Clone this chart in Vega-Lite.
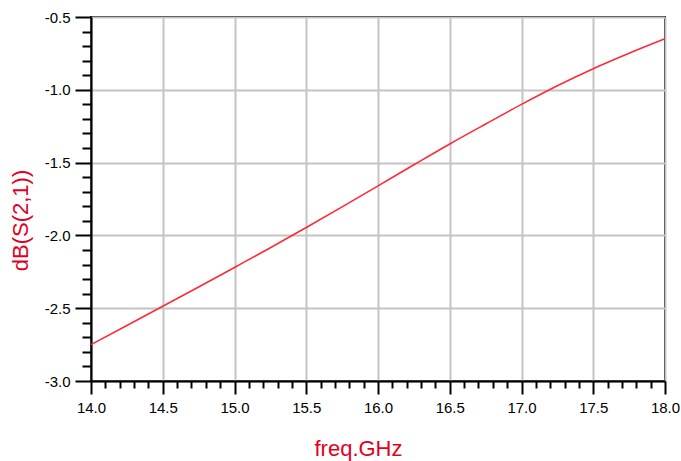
{
  "$schema": "https://vega.github.io/schema/vega-lite/v6.json",
  "width": 574,
  "height": 364,
  "padding": {"left": 91, "top": 17, "right": 16, "bottom": 80},
  "autosize": {"type": "none"},
  "background": "white",
  "config": {
    "view": {"stroke": "black", "strokeWidth": 2},
    "font": "Liberation Sans"
  },
  "data": {
    "values": [
      {"freq": 14.0, "db": -2.75},
      {"freq": 14.25, "db": -2.619},
      {"freq": 14.5, "db": -2.487},
      {"freq": 14.75, "db": -2.354},
      {"freq": 15.0, "db": -2.22},
      {"freq": 15.25, "db": -2.085},
      {"freq": 15.5, "db": -1.946},
      {"freq": 15.75, "db": -1.804},
      {"freq": 16.0, "db": -1.66},
      {"freq": 16.25, "db": -1.515},
      {"freq": 16.5, "db": -1.372},
      {"freq": 16.75, "db": -1.235},
      {"freq": 17.0, "db": -1.10},
      {"freq": 17.25, "db": -0.972},
      {"freq": 17.5, "db": -0.855},
      {"freq": 17.75, "db": -0.749},
      {"freq": 18.0, "db": -0.65}
    ]
  },
  "layer": [
    {
      "mark": {"type": "line", "strokeOpacity": 0},
      "encoding": {
        "x": {
          "field": "freq", "type": "quantitative",
          "scale": {"domain": [14, 18], "nice": false, "zero": false},
          "axis": {
            "orient": "bottom",
            "values": [14.1,14.2,14.3,14.4,14.6,14.7,14.8,14.9,15.1,15.2,15.3,15.4,15.6,15.7,15.8,15.9,16.1,16.2,16.3,16.4,16.6,16.7,16.8,16.9,17.1,17.2,17.3,17.4,17.6,17.7,17.8,17.9],
            "labels": false, "grid": false, "domain": false, "title": null,
            "tickSize": 7, "tickWidth": 2, "tickColor": "black"
          }
        },
        "y": {
          "field": "db", "type": "quantitative",
          "scale": {"domain": [-3, -0.5], "nice": false, "zero": false},
          "axis": {
            "orient": "left",
            "values": [-2.9,-2.8,-2.7,-2.6,-2.4,-2.3,-2.2,-2.1,-1.9,-1.8,-1.7,-1.6,-1.4,-1.3,-1.2,-1.1,-0.9,-0.8,-0.7,-0.6],
            "labels": false, "grid": false, "domain": false, "title": null,
            "tickSize": 9, "tickWidth": 2, "tickColor": "black"
          }
        }
      }
    },
    {
      "mark": {"type": "line", "color": "#ff2a36", "strokeWidth": 1.6, "interpolate": "monotone"},
      "encoding": {
        "x": {
          "field": "freq", "type": "quantitative",
          "scale": {"domain": [14, 18], "nice": false, "zero": false},
          "axis": {
            "orient": "bottom",
            "values": [14, 14.5, 15, 15.5, 16, 16.5, 17, 17.5, 18],
            "labelExpr": "format(datum.value, '.1f')",
            "labelFlush": false,
            "grid": true, "gridColor": "#c4c4c4", "gridWidth": 2,
            "domain": true, "domainColor": "black", "domainWidth": 2,
            "tickSize": 13, "tickWidth": 2, "tickColor": "black",
            "labelFontSize": 15, "labelColor": "black", "labelPadding": 6,
            "labelFont": "Liberation Sans",
            "title": "freq.GHz",
            "titleFont": "Liberation Sans", "titleFontSize": 22, "titleFontWeight": "normal",
            "titleColor": "#e3001f",
            "titleX": 267, "titleY": 74, "titleBaseline": "alphabetic", "titleAlign": "center"
          }
        },
        "y": {
          "field": "db", "type": "quantitative",
          "scale": {"domain": [-3, -0.5], "nice": false, "zero": false},
          "axis": {
            "orient": "left",
            "values": [-3, -2.5, -2, -1.5, -1, -0.5],
            "labelExpr": "'-' + format(-datum.value, '.1f')",
            "labelFlush": false,
            "grid": true, "gridColor": "#c4c4c4", "gridWidth": 2,
            "domain": true, "domainColor": "black", "domainWidth": 2,
            "tickSize": 16, "tickWidth": 2, "tickColor": "black",
            "labelFontSize": 15, "labelColor": "black", "labelPadding": 5,
            "labelFont": "Liberation Sans",
            "title": "dB(S(2,1))",
            "titleFont": "Liberation Sans", "titleFontSize": 22, "titleFontWeight": "normal",
            "titleColor": "#e3001f",
            "titleX": -71, "titleY": 203, "titleBaseline": "middle", "titleAlign": "center", "titleAngle": -90
          }
        }
      }
    }
  ],
  "resolve": {"axis": {"x": "independent", "y": "independent"}}
}
